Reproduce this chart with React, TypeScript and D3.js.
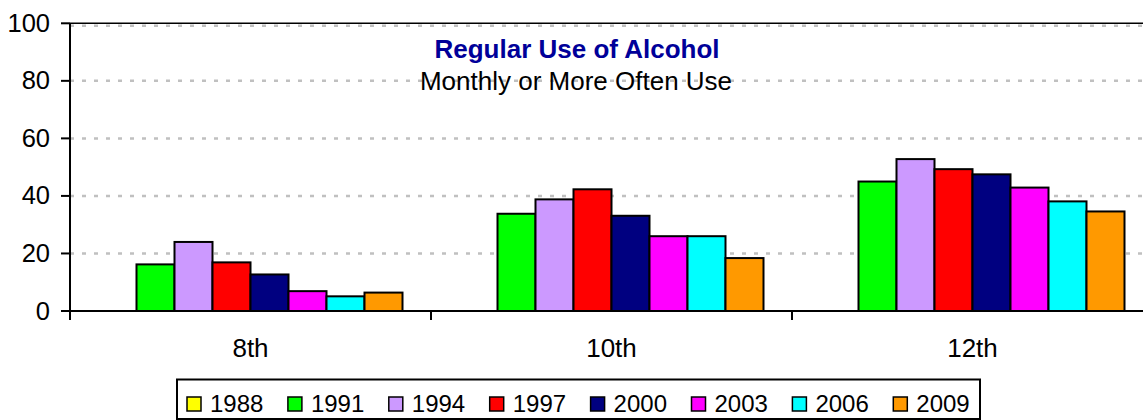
import React from 'react';
import * as d3 from 'd3';

const WIDTH = 1143;
const HEIGHT = 420;
const PLOT = { left: 70, right: 1153, top: 23.3, bottom: 311 };
const FONT = '"Liberation Sans", Arial, sans-serif';

const categories = ['8th', '10th', '12th'];
const years = ['1988', '1991', '1994', '1997', '2000', '2003', '2006', '2009'];
const colors = ['#FFFF00', '#00FF00', '#CC99FF', '#FF0000', '#000080', '#FF00FF', '#00FFFF', '#FF9900'];

// one array per survey year, values for 8th / 10th / 12th grade
const y1988: (number | null)[] = [null, null, null];
const y1991 = [16.2, 33.8, 45.0];
const y1994 = [24.0, 38.8, 52.8];
const y1997 = [16.9, 42.3, 49.3];
const y2000 = [12.7, 33.1, 47.5];
const y2003 = [6.9, 26.0, 42.9];
const y2006 = [5.1, 26.0, 38.1];
const y2009 = [6.4, 18.4, 34.6];
const series = [y1988, y1991, y1994, y1997, y2000, y2003, y2006, y2009];

const yTicks = [0, 20, 40, 60, 80, 100];

const App = () => {
  const x0 = d3.scaleBand<string>().domain(categories).range([PLOT.left, PLOT.right]).padding(0);
  const x1 = d3
    .scaleBand<string>()
    .domain(years)
    .range([0, x0.bandwidth()])
    .paddingInner(0)
    .paddingOuter(0.75);
  const y = d3.scaleLinear().domain([0, 100]).range([PLOT.bottom, PLOT.top]);

  const catEdges = categories.map((c) => x0(c) as number).concat([PLOT.right]);

  const legendX = (i: number) => 187 + i * 100.9;

  return (
    <svg
      width={WIDTH}
      height={HEIGHT}
      style={{ position: 'absolute', left: 0, top: 0, background: '#fff' }}
      fontFamily={FONT}
    >
      {/* gridlines */}
      {yTicks
        .filter((t) => t > 0)
        .map((t) => (
          <line
            key={'g' + t}
            x1={PLOT.left}
            x2={PLOT.right}
            y1={y(t) + (t === 100 ? 2.5 : 0)}
            y2={y(t) + (t === 100 ? 2.5 : 0)}
            stroke="#C0C0C0"
            strokeWidth={2.5}
            strokeDasharray="4 8"
          />
        ))}
      <line x1={PLOT.left} x2={PLOT.right} y1={PLOT.top} y2={PLOT.top} stroke="#000" strokeWidth={1.5} />

      {/* titles */}
      <text x={577} y={58} textAnchor="middle" fontSize={26} fontWeight="bold" fill="#000099">
        Regular Use of Alcohol
      </text>
      <text x={576} y={90} textAnchor="middle" fontSize={26} fill="#000">
        Monthly or More Often Use
      </text>

      {/* bars */}
      {series.map((vals, si) =>
        vals.map((v, ci) =>
          v == null ? null : (
            <rect
              key={years[si] + categories[ci]}
              x={(x0(categories[ci]) as number) + (x1(years[si]) as number)}
              y={y(v)}
              width={x1.bandwidth()}
              height={y(0) - y(v)}
              fill={colors[si]}
              stroke="#000"
              strokeWidth={2}
            />
          )
        )
      )}

      {/* axes */}
      <line x1={PLOT.left} x2={PLOT.left} y1={PLOT.top} y2={PLOT.bottom + 9} stroke="#000" strokeWidth={2} />
      <line x1={PLOT.left} x2={PLOT.right} y1={PLOT.bottom} y2={PLOT.bottom} stroke="#000" strokeWidth={2} />
      {yTicks.map((t) => (
        <g key={'t' + t}>
          <line x1={PLOT.left - 9} x2={PLOT.left} y1={y(t)} y2={y(t)} stroke="#000" strokeWidth={2} />
          <text x={50} y={y(t) + 8.5} textAnchor="end" fontSize={25.5} fill="#000">
            {t}
          </text>
        </g>
      ))}
      {catEdges.map((e, i) => (
        <line key={'c' + i} x1={e} x2={e} y1={PLOT.bottom} y2={PLOT.bottom + 9} stroke="#000" strokeWidth={2} />
      ))}
      {categories.map((c) => (
        <text
          key={'l' + c}
          x={(x0(c) as number) + x0.bandwidth() / 2}
          y={357}
          textAnchor="middle"
          fontSize={26}
          fill="#000"
        >
          {c}
        </text>
      ))}

      {/* legend */}
      <rect x={177} y={379.5} width={803} height={39.5} fill="#fff" stroke="#000" strokeWidth={2} />
      {years.map((yr, i) => (
        <g key={'lg' + yr}>
          <rect x={legendX(i)} y={397} width={14} height={14} fill={colors[i]} stroke="#000" strokeWidth={1.5} />
          <text x={legendX(i) + 23} y={411.5} fontSize={24} fill="#000">
            {yr}
          </text>
        </g>
      ))}
    </svg>
  );
};

export default App;
